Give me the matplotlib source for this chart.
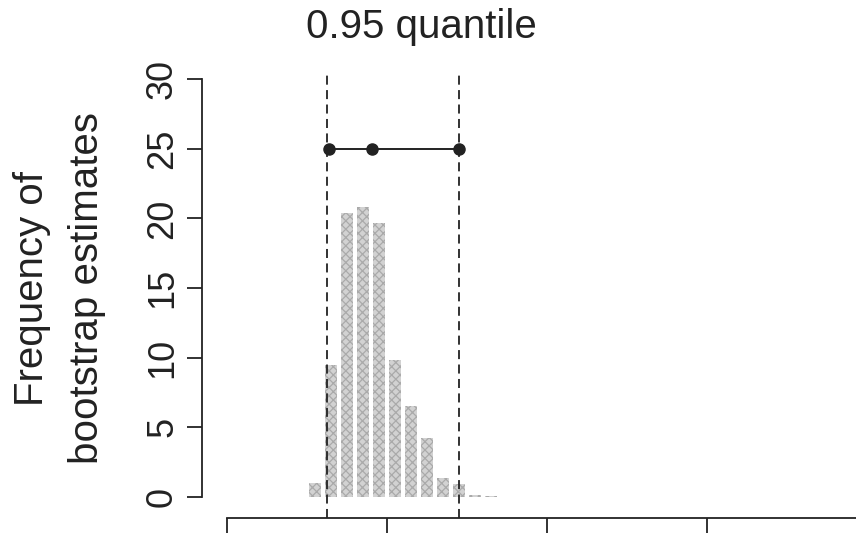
import matplotlib
matplotlib.use('Agg')
import matplotlib.pyplot as plt

plt.rcParams['font.family'] = ['Liberation Sans', 'DejaVu Sans']
plt.rcParams['hatch.linewidth'] = 0.9

# histogram of bootstrap estimates (bin centres and heights)
bin_centers = [0.55, 0.65, 0.75, 0.85, 0.95, 1.05, 1.15, 1.25, 1.35, 1.45, 1.55, 1.65]
counts = [1.0, 9.5, 20.4, 20.8, 19.7, 9.8, 6.5, 4.2, 1.4, 0.9, 0.15, 0.1]

# quantile interval and point estimate
quantile_lines = [0.625, 1.45]
interval_points = [0.64, 0.906, 1.45]
interval_level = 25

y_ticks = [0, 5, 10, 15, 20, 25, 30]
x_ticks = [0, 1, 2, 3]

fig = plt.figure(figsize=(8.56, 5.37), dpi=100)
ax = fig.add_axes([202 / 856, 1 - 518 / 537, 1 - 202 / 856, (518 - 73) / 537])
ax.set_xlim(-0.15625, 3.93125)
ax.set_ylim(-1.507, 30.437)

ax.bar(bin_centers, counts, width=0.075, color='#d2d2d2', edgecolor='#aaaaaa',
       linewidth=0, hatch='xxxx', zorder=2)

ax.vlines(quantile_lines, -1.507, 30.437, colors='#222222', linestyles=(0, (5, 3)),
          linewidth=1.3, zorder=3)
ax.plot(interval_points, [interval_level] * len(interval_points), color='#222222',
        linewidth=1.4, marker='o', markersize=8, zorder=4)

ax.spines['top'].set_visible(False)
ax.spines['right'].set_visible(False)
ax.spines['left'].set_bounds(0, 30)
ax.spines['bottom'].set_bounds(0, 3.93125)
for s in ('left', 'bottom'):
    ax.spines[s].set_linewidth(1.3)
    ax.spines[s].set_color('#222222')

ax.set_yticks(y_ticks)
ax.set_yticklabels([str(t) for t in y_ticks])
ax.set_xticks(x_ticks)
ax.set_xticklabels([])
ax.tick_params(axis='y', length=10.8, width=1.3, pad=5, labelsize=26,
               labelrotation=90, colors='#222222')
ax.tick_params(axis='x', length=10.8, width=1.3, colors='#222222')
for lab in ax.get_yticklabels():
    lab.set_va('center')

fig.text(421 / 856, 1 - 38 / 537, '0.95 quantile', ha='center', va='baseline',
         fontsize=29, color='#222222')
fig.text(43 / 856, 1 - 288 / 537, 'Frequency of', rotation=90, rotation_mode='anchor',
         ha='center', va='baseline', fontsize=29, color='#222222')
fig.text(98 / 856, 1 - 288 / 537, 'bootstrap estimates', rotation=90, rotation_mode='anchor',
         ha='center', va='baseline', fontsize=29, color='#222222')

fig.savefig('out.png', dpi=100)
